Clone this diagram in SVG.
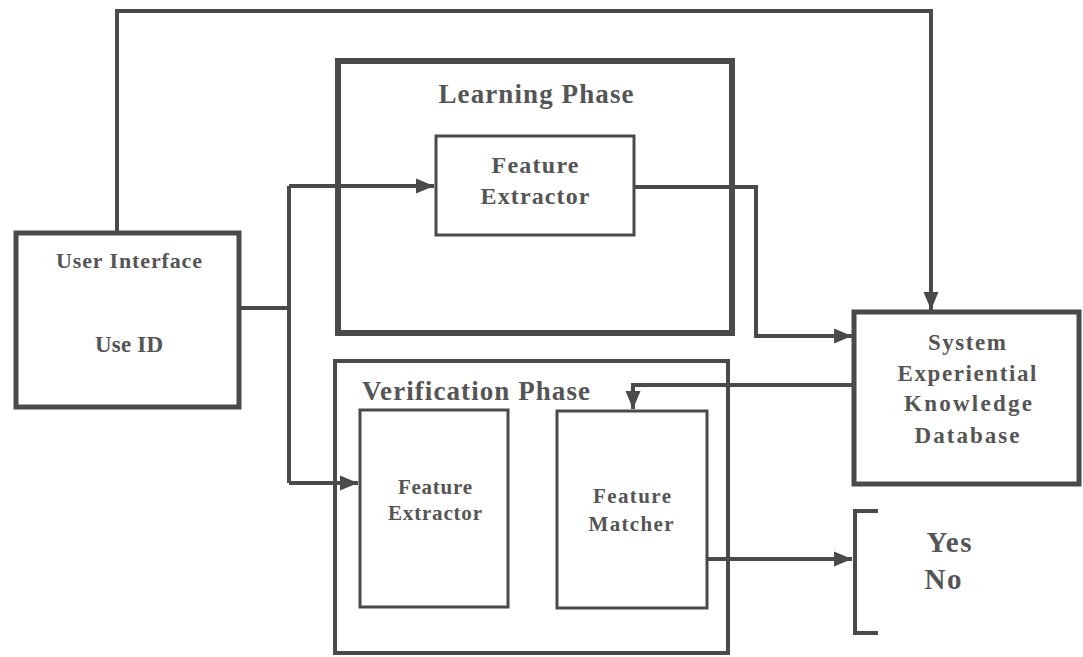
<svg xmlns="http://www.w3.org/2000/svg" width="1083" height="657" viewBox="0 0 1083 657">
<style>
.box{fill:#fff;stroke:#4a4a4a}
.t{font-family:"Liberation Serif","Times New Roman",serif;font-weight:bold;fill:#555;text-anchor:middle}
.c{fill:none;stroke:#4a4a4a;stroke-width:4;stroke-linejoin:miter}
</style>
<defs>
<marker id="ah" markerUnits="userSpaceOnUse" markerWidth="20" markerHeight="18" refX="18" refY="9" orient="auto">
<path d="M0,1.5 L18,9 L0,16.5 Z" fill="#4a4a4a"/>
</marker>
</defs>
<rect width="1083" height="657" fill="#fff"/>
<g id="learning-phase">
<rect class="box" x="338" y="61" width="394" height="272" stroke-width="6"/>
<text class="t" x="536" y="103" font-size="27" textLength="195" lengthAdjust="spacing">Learning Phase</text>
</g>
<g id="learning-extractor">
<rect class="box" x="436" y="136" width="198" height="99" stroke-width="3"/>
<text class="t" x="535" y="173" font-size="24" textLength="87" lengthAdjust="spacing">Feature</text>
<text class="t" x="535" y="204" font-size="24" textLength="109" lengthAdjust="spacing">Extractor</text>
</g>
<g id="verification-phase">
<rect class="box" x="335" y="361" width="393" height="292" stroke-width="4"/>
<text class="t" x="476" y="400" font-size="27" textLength="228" lengthAdjust="spacing">Verification Phase</text>
</g>
<g id="verification-extractor">
<rect class="box" x="360" y="410" width="148" height="197" stroke-width="3"/>
<text class="t" x="435" y="494" font-size="21" textLength="74" lengthAdjust="spacing">Feature</text>
<text class="t" x="435" y="520" font-size="21" textLength="94" lengthAdjust="spacing">Extractor</text>
</g>
<g id="feature-matcher">
<rect class="box" x="557" y="411" width="150" height="197" stroke-width="3"/>
<text class="t" x="632" y="503" font-size="21" textLength="78" lengthAdjust="spacing">Feature</text>
<text class="t" x="631" y="531" font-size="21" textLength="85" lengthAdjust="spacing">Matcher</text>
</g>
<g id="user-interface">
<rect class="box" x="16" y="233" width="223" height="174" stroke-width="5"/>
<text class="t" x="129" y="268" font-size="22" textLength="146" lengthAdjust="spacing">User Interface</text>
<text class="t" x="129" y="352" font-size="23" textLength="68" lengthAdjust="spacing">Use ID</text>
</g>
<g id="knowledge-database">
<rect class="box" x="854" y="312" width="225" height="172" stroke-width="5"/>
<text class="t" x="967" y="350" font-size="23" textLength="78" lengthAdjust="spacing">System</text>
<text class="t" x="967" y="381" font-size="23" textLength="139" lengthAdjust="spacing">Experiential</text>
<text class="t" x="968" y="411" font-size="23" textLength="128" lengthAdjust="spacing">Knowledge</text>
<text class="t" x="967" y="443" font-size="23" textLength="105" lengthAdjust="spacing">Database</text>
</g>
<g id="result">
<path class="c" d="M878,511 L855,511 L855,633 L878,633"/>
<text class="t" x="949" y="552" font-size="29" textLength="45" lengthAdjust="spacing">Yes</text>
<text class="t" x="943" y="589" font-size="29" textLength="37" lengthAdjust="spacing">No</text>
</g>
<g id="connectors">
<path class="c" d="M117,231 L117,11 L931,11 L931,310" marker-end="url(#ah)"/>
<path class="c" d="M241,308 L289,308" stroke-width="6"/>
<path class="c" d="M289,186 L289,483"/>
<path class="c" d="M289,186 L434,186" marker-end="url(#ah)"/>
<path class="c" d="M289,483 L358,483" marker-end="url(#ah)"/>
<path class="c" d="M635,187 L756,187 L756,336 L852,336" marker-end="url(#ah)"/>
<path class="c" d="M852,385 L633,385 L633,409" marker-end="url(#ah)"/>
<path class="c" d="M708,559 L852,559" marker-end="url(#ah)"/>
</g>
</svg>
